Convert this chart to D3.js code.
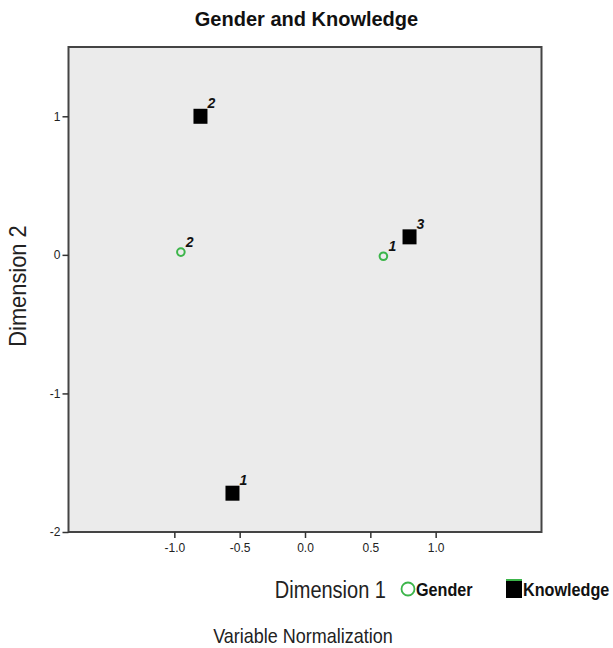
<!DOCTYPE html>
<html><head><meta charset="utf-8">
<script src="https://cdn.jsdelivr.net/npm/d3@7"></script>
<style>body{margin:0;background:#fff}svg{display:block}</style>
</head><body>
<svg id="c" width="613" height="648"></svg>
<script>
const genderLabels = ["1","2"];
const genderX = [0.60, -0.95];
const genderY = [-0.01, 0.02];
const knowledgeLabels = ["1","2","3"];
const knowledgeX = [-0.555, -0.80, 0.80];
const knowledgeY = [-1.72, 1.00, 0.13];
const xTicks = [-1.0, -0.5, 0.0, 0.5, 1.0];
const yTicks = [1, 0, -1, -2];

const svg = d3.select("#c");
const L = 68.5, R = 541.5, T = 47, B = 532;
const x = d3.scaleLinear().domain([-1.81, 1.81]).range([L, R]);
const y = d3.scaleLinear().domain([-2, 1.5]).range([B, T]);
const sans = "'Liberation Sans',Arial,sans-serif";

svg.append("text").attr("x", 306.5).attr("y", 26).attr("text-anchor", "middle")
  .attr("font-family", sans).attr("font-weight", "bold")
  .attr("font-size", 20).attr("fill", "#111").text("Gender and Knowledge");

svg.append("rect").attr("x", L).attr("y", T).attr("width", R - L).attr("height", B - T)
  .attr("fill", "#ebebeb").attr("stroke", "#444").attr("stroke-width", 2);

const xAxis = svg.append("g").attr("transform", `translate(0,${B})`)
  .call(d3.axisBottom(x).tickValues(xTicks).tickFormat(d3.format(".1f")).tickSize(6).tickPadding(5));
const yAxis = svg.append("g").attr("transform", `translate(${L},0)`)
  .call(d3.axisLeft(y).tickValues(yTicks).tickFormat(d => d3.format("d")(d)).tickSize(6).tickPadding(2));
[xAxis, yAxis].forEach(g => {
  g.select(".domain").remove();
  g.selectAll(".tick line").attr("stroke", "#333").attr("stroke-width", 1.5);
  g.selectAll(".tick text").attr("font-family", sans)
    .attr("font-size", 12).attr("fill", "#222").text(function(){return this.textContent.replace("−","-");});
});

const gender = genderX.map((v, i) => ({x: v, y: genderY[i], l: genderLabels[i]}));
const know = knowledgeX.map((v, i) => ({x: v, y: knowledgeY[i], l: knowledgeLabels[i]}));

svg.append("g").selectAll("rect").data(know).join("rect")
  .attr("x", d => x(d.x) - 7).attr("y", d => y(d.y) - 7.5)
  .attr("width", 14).attr("height", 15).attr("fill", "#000");
svg.append("g").selectAll("circle").data(gender).join("circle")
  .attr("cx", d => x(d.x)).attr("cy", d => y(d.y)).attr("r", 3.8)
  .attr("fill", "none").attr("stroke", "#3cb54a").attr("stroke-width", 2);

const lab = svg.append("g").attr("font-family", sans)
  .attr("font-weight", "bold").attr("font-style", "italic").attr("font-size", 14).attr("fill", "#111");
lab.selectAll("text.k").data(know).join("text").attr("class", "k")
  .attr("x", d => x(d.x) + 7).attr("y", d => y(d.y) - 8).text(d => d.l);
lab.selectAll("text.g").data(gender).join("text").attr("class", "g")
  .attr("x", d => x(d.x) + 5).attr("y", d => y(d.y) - 5).text(d => d.l);

svg.append("text").attr("transform", "translate(26,286) rotate(-90) scale(0.95,1)").attr("text-anchor", "middle")
  .attr("font-family", sans).attr("font-size", 23).attr("fill", "#222").text("Dimension 2");
svg.append("text").attr("transform", "translate(386,598) scale(0.87,1)").attr("text-anchor", "end")
  .attr("font-family", sans).attr("font-size", 23).attr("fill", "#222").text("Dimension 1");

svg.append("circle").attr("cx", 408).attr("cy", 589).attr("r", 6.5)
  .attr("fill", "none").attr("stroke", "#3cb54a").attr("stroke-width", 1.8);
svg.append("text").attr("transform", "translate(416,596) scale(0.9,1)").attr("font-family", sans).attr("font-weight", "bold")
  .attr("font-size", 18).attr("fill", "#111").text("Gender");
svg.append("rect").attr("x", 506).attr("y", 580).attr("width", 16).attr("height", 18).attr("fill", "#000");
svg.append("rect").attr("x", 506).attr("y", 579).attr("width", 16).attr("height", 2).attr("fill", "#3cb54a");
svg.append("text").attr("transform", "translate(523,596) scale(0.9,1)").attr("font-family", sans).attr("font-weight", "bold")
  .attr("font-size", 18).attr("fill", "#111").text("Knowledge");

svg.append("text").attr("transform", "translate(303,643) scale(0.9,1)").attr("text-anchor", "middle")
  .attr("font-family", sans).attr("font-size", 20).attr("fill", "#222").text("Variable Normalization");
</script>
</body></html>
